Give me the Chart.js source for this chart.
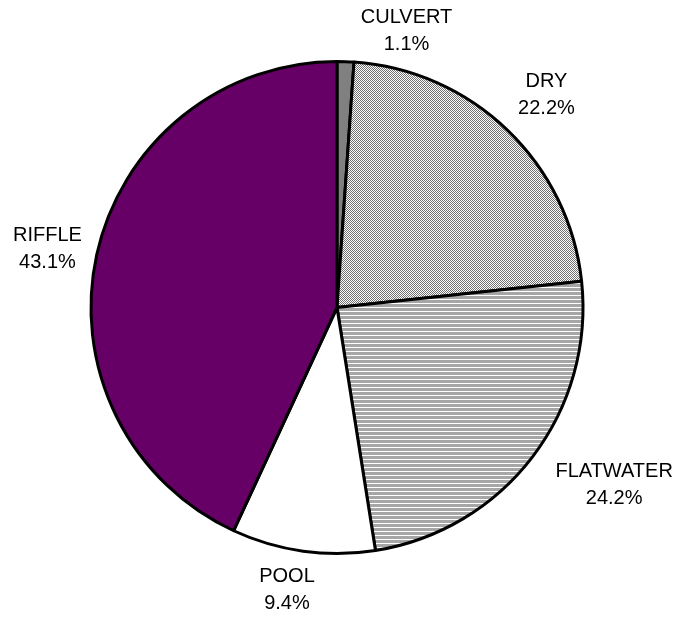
<!DOCTYPE html>
<html>
<head>
<meta charset="utf-8">
<script src="https://cdn.jsdelivr.net/npm/chart.js@4/dist/chart.umd.min.js"></script>
<style>
  html, body { margin: 0; padding: 0; background: #fff; overflow: hidden; }
  #wrap { width: 676px; height: 618px; }
</style>
</head>
<body>
<div id="wrap"><canvas id="pie" width="676" height="618"></canvas></div>
<script>
/* ─── DATA ─── */
const categories = ['CULVERT', 'DRY', 'FLATWATER', 'POOL', 'RIFFLE'];
const shares = [1.1, 22.2, 24.2, 9.4, 43.1];

/* label nudges (px) from the mid-angle anchor, Excel-ish placement */
const LABEL_NUDGE = [[60, -1], [18, -14], [58, 9], [-12, 9], [-20, 0]];

/* ─── PATTERNS ─── */
function makePattern(w, h, draw) {
  const c = document.createElement('canvas');
  c.width = w; c.height = h;
  const g = c.getContext('2d');
  draw(g);
  return document.getElementById('pie').getContext('2d').createPattern(c, 'repeat');
}

const checker = makePattern(2, 2, g => {
  g.fillStyle = '#ffffff'; g.fillRect(0, 0, 2, 2);
  g.fillStyle = '#707070'; g.fillRect(0, 0, 1, 1); g.fillRect(1, 1, 1, 1);
});

const stripes = makePattern(4, 4, g => {
  g.fillStyle = '#a6a6a6'; g.fillRect(0, 0, 4, 4);
  g.fillStyle = '#ffffff'; g.fillRect(0, 3, 4, 1);
});

const fills = ['#808080', checker, stripes, '#ffffff', '#660066'];

/* ─── OUTSIDE LABELS ─── */
const outsideLabels = {
  id: 'outsideLabels',
  afterDatasetsDraw(chart) {
    const ctx = chart.ctx;
    const meta = chart.getDatasetMeta(0);
    ctx.save();
    ctx.font = "20px 'Liberation Sans', Arial, sans-serif";
    ctx.fillStyle = '#000';
    ctx.textAlign = 'center';
    ctx.textBaseline = 'middle';
    meta.data.forEach((arc, i) => {
      const p = arc.getProps(['x', 'y', 'startAngle', 'endAngle', 'outerRadius'], true);
      const mid = (p.startAngle + p.endAngle) / 2;
      const r = p.outerRadius + 30;
      const x = p.x + Math.cos(mid) * r + LABEL_NUDGE[i][0];
      const y = p.y + Math.sin(mid) * r + LABEL_NUDGE[i][1];
      ctx.fillText(categories[i], x, y - 13);
      ctx.fillText(shares[i].toFixed(1) + '%', x, y + 14);
    });
    ctx.restore();
  }
};

new Chart(document.getElementById('pie'), {
  type: 'pie',
  data: {
    labels: categories,
    datasets: [{
      data: shares,
      backgroundColor: fills,
      borderColor: '#000000',
      borderWidth: 3,
      hoverOffset: 0
    }]
  },
  options: {
    responsive: false,
    animation: false,
    layout: { padding: { left: 89, right: 91, top: 60, bottom: 63 } },
    plugins: {
      legend: { display: false },
      tooltip: { enabled: false }
    }
  },
  plugins: [outsideLabels]
});
</script>
</body>
</html>
